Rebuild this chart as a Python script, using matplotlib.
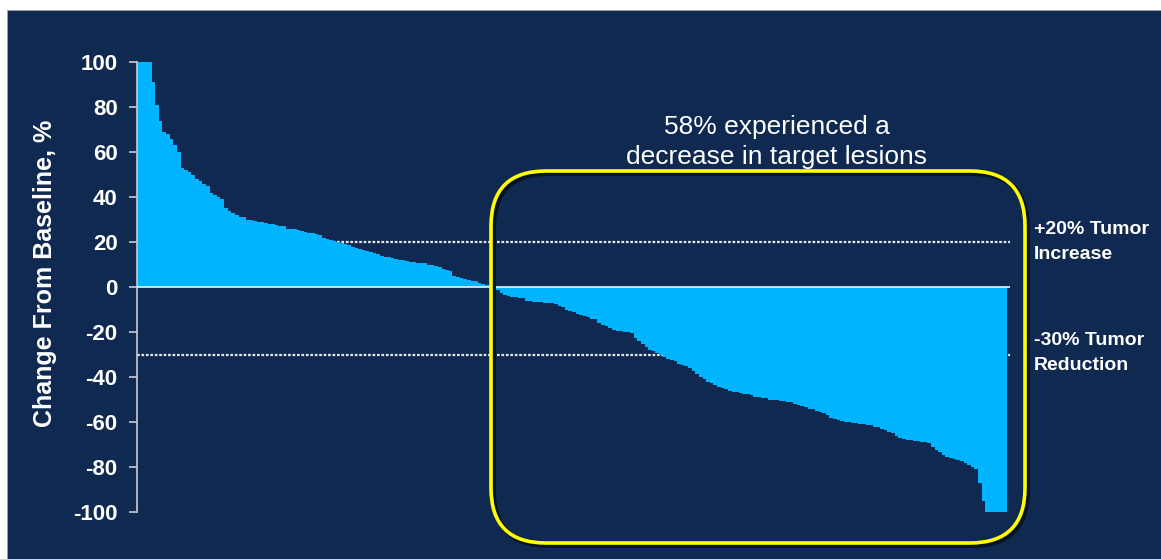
import matplotlib
matplotlib.use("Agg")
import matplotlib.pyplot as plt
from matplotlib.patches import Rectangle, FancyBboxPatch
from matplotlib.transforms import IdentityTransform

# best % change in target lesions, one value per patient, sorted
positive = [100, 100, 100, 100, 91, 81, 74, 69, 68, 66, 63, 60, 53, 52, 51, 50,
            48, 47, 46, 45, 42, 41, 40, 39, 35, 34, 33, 32, 31, 31, 30, 30,
            29.5, 29, 29, 28.5, 28, 28, 27.5, 27, 27, 26, 26, 26, 25.5, 25,
            24.5, 24, 24, 23.5, 23, 22, 21.5, 21, 20.5, 20, 19.5, 19, 18.5, 18,
            17.5, 17, 16.5, 16, 15.5, 15, 14.5, 14, 13.5, 13.5, 13, 12.5, 12,
            12, 11.5, 11, 11, 10.5, 10.5, 10.5, 10, 10, 9.5, 9, 8, 7.5, 7, 5,
            4.5, 4, 3.5, 3, 2.5, 2.5, 2, 1.5, 1]
zero = [0, 0]
negative = [-1.5, -2.5, -3.5, -4, -4.5, -4.5, -5, -5, -6, -6, -6.5, -6.5, -6.5,
            -7, -7, -7, -7.5, -8.5, -9, -10, -10.5, -11, -12, -12.5, -13, -13.5,
            -14, -14, -16, -17, -17.5, -18, -19, -19.5, -19.5, -20, -20, -20.5,
            -22.5, -24, -25.5, -26.5, -28, -28.5, -29.5, -30, -31, -32, -32.5,
            -33, -34, -34.5, -35, -36, -37.5, -38.5, -40, -41, -42, -42.5, -43.5,
            -44.5, -45, -45.5, -46, -46.5, -46.5, -47, -47.5, -47.5, -48, -49,
            -49, -49.5, -49.5, -50, -50, -50, -50.5, -50.5, -51, -51, -52, -52.5,
            -53, -53.5, -54, -54, -55, -55.5, -56, -57, -58, -58.5, -59, -59.5,
            -60, -60, -60.5, -60.5, -61, -61, -61.5, -61.5, -62, -62, -63, -63.5,
            -64.5, -65, -66, -67, -67.5, -68, -68, -68.5, -68.5, -69, -69, -69.5,
            -71, -72.5, -73.5, -74.5, -75.5, -76, -76.5, -77, -77.5, -78, -79,
            -80, -81, -87, -95, -100, -100, -100, -100, -100, -100]
change = positive + zero + negative

yticks = [100, 80, 60, 40, 20, 0, -20, -40, -60, -80, -100]
ref_lines = [20, -30]

navy = "#0F2950"
cyan = "#00B4FF"
font = "Liberation Sans"

W, H = 1161, 559
fig = plt.figure(figsize=(W / 100, H / 100), dpi=100, facecolor="white")
fig.patches.append(Rectangle((7, 0), W - 7, H - 10, transform=IdentityTransform(),
                             facecolor=navy, edgecolor="#9aa4b0", lw=0.6, zorder=-10))

ax = fig.add_axes([137 / W, 47 / H, 873 / W, 450 / H])
ax.set_facecolor("none")

x = list(range(len(change)))
for yv in ref_lines:
    ax.axhline(yv, color="#e6e9ee", lw=1.6, ls=(0, (1.2, 0.8)), zorder=1)
ax.bar(x, change, width=1.0, color=cyan, linewidth=0, zorder=2)
ax.axhline(0, color="#e8f6ff", lw=1.2, zorder=3)

ax.set_xlim(-0.5, len(change) + 0.3)
ax.set_ylim(-100, 100)
ax.set_yticks(yticks)
ax.set_yticklabels([str(t) for t in yticks], fontsize=16, fontweight="bold",
                   color="white", family=font)
ax.set_xticks([])
for s in ["top", "right", "bottom"]:
    ax.spines[s].set_visible(False)
ax.spines["left"].set_color("#c8ccd4")
ax.spines["left"].set_linewidth(1.2)
ax.tick_params(axis="y", direction="out", length=6, width=1.2, color="#c8ccd4", pad=8)

fig.text(45 / W, (H - 273) / H, "Change From Baseline, %", rotation=90, ha="center",
         va="center", color="white", fontsize=18, fontweight="bold", family=font)

# yellow rounded box with a soft dark shadow
for off, col, lw in [((2.5, -2.5), "#061326", 3.5), ((0, 0), "#FFFF00", 2.6)]:
    fig.patches.append(FancyBboxPatch((491 + off[0], 16 + off[1]), 534, 372,
                                      boxstyle="round,pad=0,rounding_size=55",
                                      transform=IdentityTransform(), facecolor="none",
                                      edgecolor=col, lw=lw, zorder=5))

fig.text(777 / W, (H - 142) / H, "58% experienced a\ndecrease in target lesions",
         ha="center", va="center", color="white", fontsize=19, family=font,
         linespacing=1.3)
fig.text(1034 / W, (H - 242) / H, "+20% Tumor\nIncrease", ha="left", va="center",
         color="white", fontsize=14, fontweight="bold", family=font, linespacing=1.6)
fig.text(1034 / W, (H - 353) / H, "-30% Tumor\nReduction", ha="left", va="center",
         color="white", fontsize=14, fontweight="bold", family=font, linespacing=1.6)

fig.savefig("out.png", dpi=100, facecolor="white")
